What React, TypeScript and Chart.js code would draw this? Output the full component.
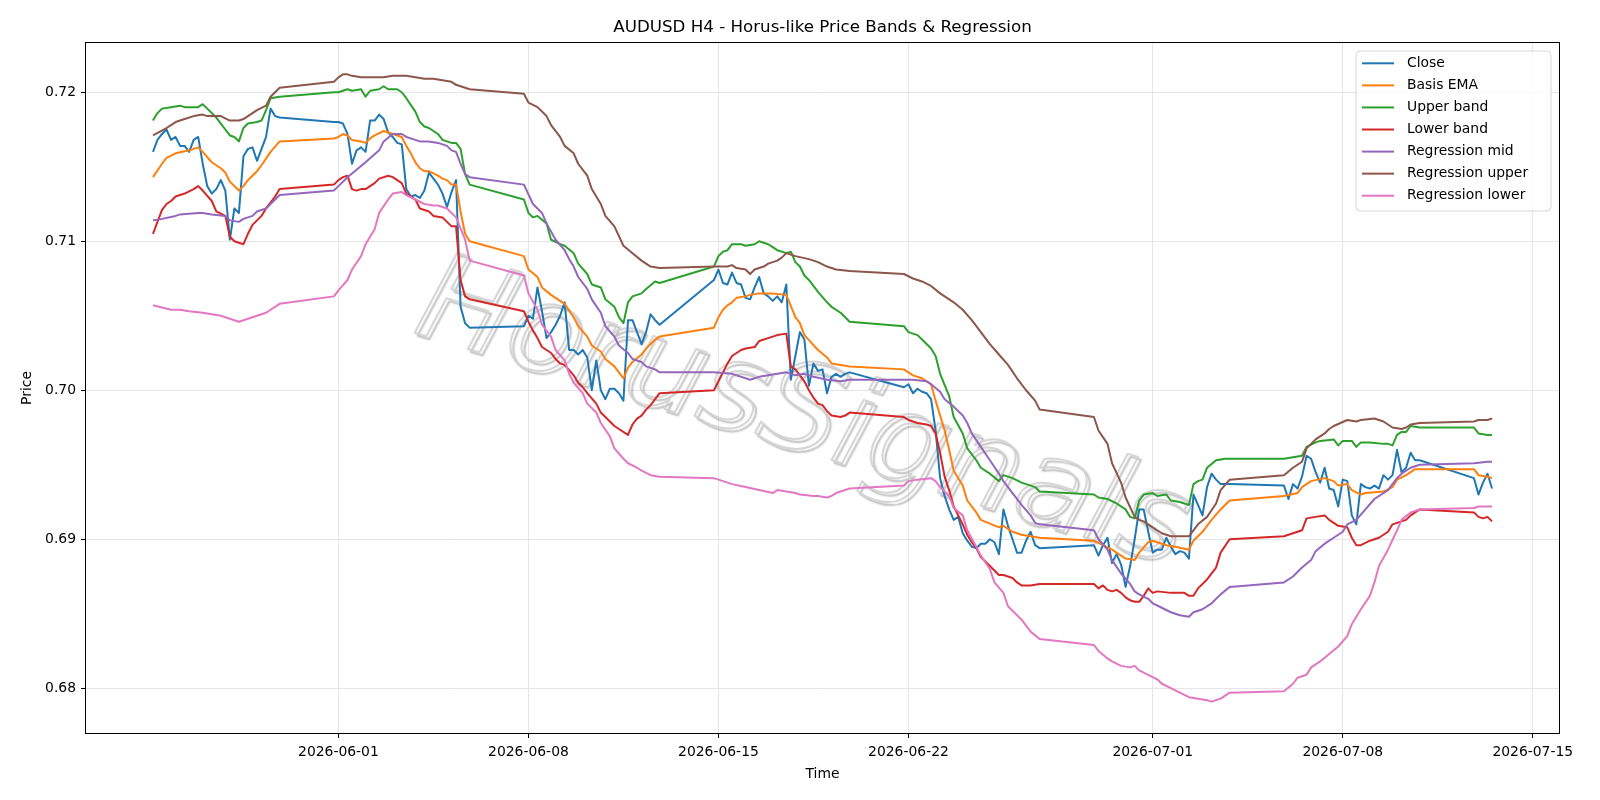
import React, { useEffect, useRef } from "react";
import { Chart, registerables } from "chart.js";

Chart.register(...registerables);

// ---------- text ----------
const TITLE = "AUDUSD H4 - Horus-like Price Bands & Regression";
const X_LABEL = "Time";
const Y_LABEL = "Price";
const WATERMARK = "HorusSignals";
const YEAR = 2026;

// ---------- ticks ----------
const X_TICKS = ["06-01", "06-08", "06-15", "06-22", "07-01", "07-08", "07-15"];
const Y_TICKS = [0.68, 0.69, 0.7, 0.71, 0.72];

// ---------- data: [ "MM-DD HH" (H4 bar time), value ] ----------
type P = [string, number];

const closeSeries: P[] = [
  ["05-25 04", 0.716], ["05-25 08", 0.7168], ["05-25 12", 0.7172], ["05-25 16", 0.7175], ["05-25 20", 0.7168],
  ["05-26 00", 0.717], ["05-26 04", 0.7164], ["05-26 08", 0.7164], ["05-26 12", 0.716], ["05-26 16", 0.7168], ["05-26 20", 0.717],
  ["05-27 00", 0.7152], ["05-27 04", 0.7137], ["05-27 08", 0.7132], ["05-27 12", 0.7135], ["05-27 16", 0.7141], ["05-27 20", 0.7134],
  ["05-28 00", 0.7101], ["05-28 04", 0.7122], ["05-28 08", 0.7119], ["05-28 12", 0.7157], ["05-28 16", 0.7162], ["05-28 20", 0.7163],
  ["05-29 00", 0.7154], ["05-29 04", 0.7162], ["05-29 08", 0.717], ["05-29 12", 0.7189], ["05-29 16", 0.7184], ["05-29 20", 0.7183],
  ["05-31 20", 0.718],
  ["06-01 00", 0.718], ["06-01 04", 0.7179], ["06-01 08", 0.7172], ["06-01 12", 0.7152], ["06-01 16", 0.7161], ["06-01 20", 0.7163],
  ["06-02 00", 0.716], ["06-02 04", 0.7181], ["06-02 08", 0.7181], ["06-02 12", 0.7185], ["06-02 16", 0.7182], ["06-02 20", 0.7173],
  ["06-03 00", 0.717], ["06-03 04", 0.7166], ["06-03 08", 0.7165], ["06-03 12", 0.7135], ["06-03 16", 0.713], ["06-03 20", 0.7131],
  ["06-04 00", 0.7129], ["06-04 04", 0.7134], ["06-04 08", 0.7146], ["06-04 12", 0.7142], ["06-04 16", 0.7138], ["06-04 20", 0.7132],
  ["06-05 00", 0.7123], ["06-05 04", 0.7133], ["06-05 08", 0.7141], ["06-05 12", 0.7056], ["06-05 16", 0.7045], ["06-05 20", 0.7042],
  ["06-07 20", 0.7043],
  ["06-08 00", 0.705], ["06-08 04", 0.7048], ["06-08 08", 0.7069], ["06-08 12", 0.7053], ["06-08 16", 0.7035], ["06-08 20", 0.7039],
  ["06-09 00", 0.7044], ["06-09 04", 0.705], ["06-09 08", 0.7059], ["06-09 12", 0.7027], ["06-09 16", 0.7027], ["06-09 20", 0.7024],
  ["06-10 00", 0.7027], ["06-10 04", 0.7022], ["06-10 08", 0.7], ["06-10 12", 0.702], ["06-10 16", 0.7], ["06-10 20", 0.6994],
  ["06-11 00", 0.7001], ["06-11 04", 0.7001], ["06-11 08", 0.6998], ["06-11 12", 0.6993], ["06-11 16", 0.7047], ["06-11 20", 0.7047],
  ["06-12 00", 0.7039], ["06-12 04", 0.7031], ["06-12 08", 0.7039], ["06-12 12", 0.7051], ["06-12 16", 0.7047], ["06-12 20", 0.7044],
  ["06-14 20", 0.7074],
  ["06-15 00", 0.7081], ["06-15 04", 0.7072], ["06-15 08", 0.7071], ["06-15 12", 0.7079], ["06-15 16", 0.7072], ["06-15 20", 0.7071],
  ["06-16 00", 0.7062], ["06-16 04", 0.7061], ["06-16 08", 0.7069], ["06-16 12", 0.7076], ["06-16 16", 0.7065], ["06-16 20", 0.7063],
  ["06-17 00", 0.706], ["06-17 04", 0.7063], ["06-17 08", 0.7059], ["06-17 12", 0.7071], ["06-17 16", 0.7007], ["06-17 20", 0.7023],
  ["06-18 00", 0.7039], ["06-18 04", 0.7034], ["06-18 08", 0.7003], ["06-18 12", 0.7018], ["06-18 16", 0.7013], ["06-18 20", 0.7014],
  ["06-19 00", 0.6998], ["06-19 04", 0.7009], ["06-19 08", 0.7011], ["06-19 12", 0.7009], ["06-19 16", 0.7011], ["06-19 20", 0.7012],
  ["06-21 20", 0.7002],
  ["06-22 00", 0.7004], ["06-22 04", 0.6998], ["06-22 08", 0.7001], ["06-22 12", 0.6999], ["06-22 16", 0.6998], ["06-22 20", 0.6994],
  ["06-23 00", 0.6973], ["06-23 04", 0.6941], ["06-23 08", 0.6929], ["06-23 12", 0.692], ["06-23 16", 0.6913], ["06-23 20", 0.6915],
  ["06-24 00", 0.6904], ["06-24 04", 0.6899], ["06-24 08", 0.6895], ["06-24 12", 0.6894], ["06-24 16", 0.6897], ["06-24 20", 0.6897],
  ["06-25 00", 0.69], ["06-25 04", 0.6898], ["06-25 08", 0.689], ["06-25 12", 0.692], ["06-25 16", 0.6909], ["06-25 20", 0.69],
  ["06-26 00", 0.6891], ["06-26 04", 0.6891], ["06-26 08", 0.6899], ["06-26 12", 0.6905], ["06-26 16", 0.6896], ["06-26 20", 0.6894],
  ["06-28 20", 0.6896],
  ["06-29 00", 0.6889], ["06-29 04", 0.6896], ["06-29 08", 0.6901], ["06-29 12", 0.6884], ["06-29 16", 0.689], ["06-29 20", 0.6883],
  ["06-30 00", 0.6868], ["06-30 04", 0.6882], ["06-30 08", 0.69], ["06-30 12", 0.692], ["06-30 16", 0.692], ["06-30 20", 0.6905],
  ["07-01 00", 0.6891], ["07-01 04", 0.6893], ["07-01 08", 0.6893], ["07-01 12", 0.6901], ["07-01 16", 0.6895], ["07-01 20", 0.689],
  ["07-02 00", 0.6892], ["07-02 04", 0.6891], ["07-02 08", 0.6887], ["07-02 12", 0.693], ["07-02 16", 0.6923], ["07-02 20", 0.6916],
  ["07-03 00", 0.6935], ["07-03 04", 0.6944], ["07-03 08", 0.694], ["07-03 12", 0.6937], ["07-03 16", 0.6937], ["07-03 20", 0.6937],
  ["07-05 20", 0.6936],
  ["07-06 00", 0.6927], ["07-06 04", 0.6937], ["07-06 08", 0.6934], ["07-06 12", 0.6942], ["07-06 16", 0.6956], ["07-06 20", 0.6954],
  ["07-07 00", 0.6945], ["07-07 04", 0.6938], ["07-07 08", 0.6948], ["07-07 12", 0.6934], ["07-07 16", 0.6933], ["07-07 20", 0.6922],
  ["07-08 00", 0.694], ["07-08 04", 0.6939], ["07-08 08", 0.6916], ["07-08 12", 0.691], ["07-08 16", 0.6937], ["07-08 20", 0.6935],
  ["07-09 00", 0.6934], ["07-09 04", 0.6936], ["07-09 08", 0.6934], ["07-09 12", 0.6943], ["07-09 16", 0.694], ["07-09 20", 0.6943],
  ["07-10 00", 0.696], ["07-10 04", 0.6945], ["07-10 08", 0.6948], ["07-10 12", 0.6958], ["07-10 16", 0.6953], ["07-10 20", 0.6953],
  ["07-12 20", 0.6941],
  ["07-13 00", 0.693], ["07-13 04", 0.6938], ["07-13 08", 0.6944], ["07-13 12", 0.6934],
];

const basisEma: P[] = [
  ["05-25 04", 0.7143], ["05-25 12", 0.7152], ["05-25 16", 0.7156], ["05-26 00", 0.7159], ["05-26 12", 0.7161], ["05-26 20", 0.7163],
  ["05-27 00", 0.716], ["05-27 08", 0.7153], ["05-27 16", 0.7149], ["05-27 20", 0.7146], ["05-28 00", 0.714], ["05-28 08", 0.7134],
  ["05-28 12", 0.7137], ["05-28 16", 0.7141], ["05-28 20", 0.7144], ["05-29 00", 0.7147], ["05-29 04", 0.7151], ["05-29 12", 0.716],
  ["05-29 20", 0.7167], ["05-31 20", 0.7169],
  ["06-01 00", 0.717], ["06-01 04", 0.7172], ["06-01 08", 0.7171], ["06-01 12", 0.7168], ["06-01 20", 0.7167], ["06-02 00", 0.7166],
  ["06-02 04", 0.7169], ["06-02 08", 0.7171], ["06-02 16", 0.7174], ["06-02 20", 0.7173], ["06-03 04", 0.7171], ["06-03 08", 0.717],
  ["06-03 12", 0.7164], ["06-03 16", 0.7159], ["06-03 20", 0.7153], ["06-04 00", 0.7149], ["06-04 04", 0.7147], ["06-04 08", 0.7147],
  ["06-04 16", 0.7144], ["06-04 20", 0.7142], ["06-05 00", 0.7141], ["06-05 04", 0.7138], ["06-05 08", 0.7138], ["06-05 12", 0.712],
  ["06-05 16", 0.7105], ["06-05 20", 0.71], ["06-07 20", 0.709],
  ["06-08 00", 0.7081], ["06-08 08", 0.7076], ["06-08 12", 0.7069], ["06-08 20", 0.7064], ["06-09 00", 0.7062], ["06-09 08", 0.7058],
  ["06-09 16", 0.7049], ["06-09 20", 0.7043], ["06-10 04", 0.7036], ["06-10 08", 0.703], ["06-10 16", 0.7026], ["06-10 20", 0.7021],
  ["06-11 04", 0.7016], ["06-11 12", 0.7008], ["06-11 16", 0.7015], ["06-11 20", 0.7019], ["06-12 04", 0.7024], ["06-12 08", 0.7028],
  ["06-12 16", 0.7034], ["06-12 20", 0.7036], ["06-14 20", 0.7042],
  ["06-15 00", 0.7049], ["06-15 04", 0.7054], ["06-15 08", 0.7057], ["06-15 12", 0.7059], ["06-15 16", 0.7062], ["06-16 00", 0.7063],
  ["06-16 04", 0.7064], ["06-16 12", 0.7065], ["06-17 00", 0.7065], ["06-17 12", 0.7064], ["06-17 20", 0.7049], ["06-18 00", 0.7045],
  ["06-18 04", 0.7037], ["06-18 16", 0.7027], ["06-19 00", 0.7022], ["06-19 04", 0.7018], ["06-19 12", 0.7017], ["06-19 20", 0.7016],
  ["06-21 20", 0.7014],
  ["06-22 04", 0.701], ["06-22 12", 0.7008], ["06-22 20", 0.7004], ["06-23 00", 0.6993], ["06-23 04", 0.6983], ["06-23 08", 0.6973],
  ["06-23 12", 0.696], ["06-23 16", 0.6946], ["06-24 00", 0.6936], ["06-24 04", 0.6926], ["06-24 12", 0.6918], ["06-24 16", 0.6913],
  ["06-25 08", 0.6908], ["06-25 12", 0.6909], ["06-25 20", 0.6905], ["06-26 04", 0.6903], ["06-26 20", 0.6901], ["06-28 20", 0.6899],
  ["06-29 04", 0.6896], ["06-29 12", 0.6893], ["06-29 16", 0.6891], ["06-30 00", 0.6887], ["06-30 08", 0.6886], ["06-30 12", 0.6891],
  ["06-30 20", 0.6898], ["07-01 00", 0.6899], ["07-01 12", 0.6896], ["07-01 20", 0.6895], ["07-02 08", 0.6893], ["07-02 12", 0.6899],
  ["07-02 20", 0.6905], ["07-03 04", 0.6913], ["07-03 12", 0.692], ["07-03 20", 0.6926], ["07-05 20", 0.6929],
  ["07-06 08", 0.6931], ["07-06 12", 0.6935], ["07-06 20", 0.6939], ["07-07 08", 0.6941], ["07-07 16", 0.6939], ["07-07 20", 0.6936],
  ["07-08 04", 0.6937], ["07-08 08", 0.6933], ["07-08 16", 0.693], ["07-08 20", 0.6931], ["07-09 12", 0.6932], ["07-09 20", 0.6935],
  ["07-10 00", 0.694], ["07-10 08", 0.6943], ["07-10 16", 0.6947], ["07-10 20", 0.6947], ["07-12 20", 0.6947],
  ["07-13 00", 0.6943], ["07-13 08", 0.6942], ["07-13 12", 0.6941],
];

const upperBand: P[] = [
  ["05-25 04", 0.7181], ["05-25 08", 0.7186], ["05-25 12", 0.7189], ["05-25 20", 0.719], ["05-26 04", 0.7191], ["05-26 08", 0.719],
  ["05-26 20", 0.719], ["05-27 00", 0.7192], ["05-27 04", 0.7189], ["05-27 12", 0.7183], ["05-27 16", 0.7179], ["05-27 20", 0.7175],
  ["05-28 00", 0.7171], ["05-28 04", 0.717], ["05-28 08", 0.7167], ["05-28 12", 0.7176], ["05-28 16", 0.7179], ["05-29 00", 0.718],
  ["05-29 04", 0.7181], ["05-29 08", 0.7188], ["05-29 12", 0.7196], ["05-29 20", 0.7197], ["05-31 20", 0.72],
  ["06-01 00", 0.72], ["06-01 04", 0.7201], ["06-01 08", 0.7202], ["06-01 12", 0.7201], ["06-01 20", 0.7202], ["06-02 00", 0.7197],
  ["06-02 04", 0.7201], ["06-02 12", 0.7202], ["06-02 16", 0.7204], ["06-02 20", 0.7202], ["06-03 04", 0.7202], ["06-03 08", 0.72],
  ["06-03 12", 0.7196], ["06-03 20", 0.7187], ["06-04 00", 0.718], ["06-04 04", 0.7177], ["06-04 08", 0.7176], ["06-04 16", 0.7172],
  ["06-04 20", 0.7168], ["06-05 04", 0.7166], ["06-05 08", 0.7166], ["06-05 12", 0.7162], ["06-05 16", 0.7145], ["06-05 20", 0.7138],
  ["06-07 20", 0.7128],
  ["06-08 00", 0.7119], ["06-08 04", 0.7116], ["06-08 08", 0.7117], ["06-08 16", 0.7112], ["06-08 20", 0.7101], ["06-09 04", 0.7098],
  ["06-09 08", 0.7097], ["06-09 16", 0.7092], ["06-09 20", 0.7085], ["06-10 04", 0.7078], ["06-10 08", 0.7071], ["06-10 16", 0.7069],
  ["06-10 20", 0.7061], ["06-11 04", 0.7056], ["06-11 08", 0.7049], ["06-11 12", 0.7045], ["06-11 16", 0.7059], ["06-11 20", 0.7063],
  ["06-12 04", 0.7065], ["06-12 08", 0.7068], ["06-12 16", 0.7073], ["06-12 20", 0.7072], ["06-14 20", 0.7083],
  ["06-15 00", 0.709], ["06-15 04", 0.7093], ["06-15 08", 0.7094], ["06-15 12", 0.7098], ["06-15 20", 0.7098], ["06-16 00", 0.7097],
  ["06-16 08", 0.7098], ["06-16 12", 0.71], ["06-16 20", 0.7098], ["06-17 00", 0.7096], ["06-17 04", 0.7094], ["06-17 12", 0.7092],
  ["06-17 16", 0.7093], ["06-17 20", 0.7086], ["06-18 00", 0.7083], ["06-18 04", 0.7077], ["06-18 08", 0.7074], ["06-18 16", 0.7066],
  ["06-19 00", 0.7059], ["06-19 04", 0.7056], ["06-19 12", 0.7052], ["06-19 20", 0.7046], ["06-21 20", 0.7043],
  ["06-22 00", 0.7039], ["06-22 08", 0.7037], ["06-22 12", 0.7034], ["06-22 20", 0.7028], ["06-23 00", 0.7023], ["06-23 04", 0.7011],
  ["06-23 12", 0.6996], ["06-23 16", 0.6982], ["06-24 00", 0.6971], ["06-24 04", 0.6961], ["06-24 12", 0.6953], ["06-24 16", 0.6948],
  ["06-25 00", 0.6944], ["06-25 08", 0.6939], ["06-25 12", 0.6943], ["06-25 16", 0.6942], ["06-25 20", 0.6941], ["06-26 04", 0.6938],
  ["06-26 08", 0.6937], ["06-26 16", 0.6935], ["06-26 20", 0.6932], ["06-28 20", 0.693],
  ["06-29 00", 0.6928], ["06-29 08", 0.6927], ["06-29 16", 0.6924], ["06-30 00", 0.692], ["06-30 04", 0.6915], ["06-30 08", 0.6914],
  ["06-30 12", 0.6926], ["06-30 16", 0.693], ["07-01 00", 0.6931], ["07-01 04", 0.6929], ["07-01 12", 0.693], ["07-01 16", 0.6926],
  ["07-02 00", 0.6925], ["07-02 04", 0.6924], ["07-02 08", 0.6923], ["07-02 12", 0.6937], ["07-02 16", 0.6939], ["07-02 20", 0.694],
  ["07-03 00", 0.6948], ["07-03 08", 0.6953], ["07-03 16", 0.6954], ["07-05 20", 0.6954],
  ["07-06 04", 0.6955], ["07-06 12", 0.6956], ["07-06 16", 0.6962], ["07-07 00", 0.6965], ["07-07 04", 0.6966], ["07-07 16", 0.6967],
  ["07-07 20", 0.6963], ["07-08 00", 0.6966], ["07-08 08", 0.6966], ["07-08 12", 0.6962], ["07-08 16", 0.6965], ["07-09 00", 0.6965],
  ["07-09 12", 0.6964], ["07-09 16", 0.6964], ["07-09 20", 0.6963], ["07-10 00", 0.697], ["07-10 04", 0.6972], ["07-10 08", 0.6972],
  ["07-10 12", 0.6976], ["07-10 20", 0.6975], ["07-12 20", 0.6975],
  ["07-13 00", 0.6971], ["07-13 08", 0.697], ["07-13 12", 0.697],
];

const lowerBand: P[] = [
  ["05-25 04", 0.7105], ["05-25 08", 0.7113], ["05-25 12", 0.7121], ["05-25 16", 0.7125], ["05-25 20", 0.7127], ["05-26 00", 0.713],
  ["05-26 04", 0.7131], ["05-26 08", 0.7132], ["05-26 16", 0.7135], ["05-26 20", 0.7137], ["05-27 00", 0.7134], ["05-27 08", 0.7127],
  ["05-27 12", 0.712], ["05-27 20", 0.7117], ["05-28 00", 0.7103], ["05-28 04", 0.71], ["05-28 12", 0.7098], ["05-28 16", 0.7105],
  ["05-28 20", 0.7111], ["05-29 00", 0.7114], ["05-29 04", 0.7117], ["05-29 08", 0.7122], ["05-29 16", 0.713], ["05-29 20", 0.7135],
  ["05-31 20", 0.7138],
  ["06-01 00", 0.7141], ["06-01 04", 0.7143], ["06-01 08", 0.7144], ["06-01 12", 0.7135], ["06-01 16", 0.7134], ["06-01 20", 0.7135],
  ["06-02 00", 0.7135], ["06-02 08", 0.7139], ["06-02 12", 0.7142], ["06-02 20", 0.7144], ["06-03 00", 0.7143], ["06-03 04", 0.7141],
  ["06-03 08", 0.7139], ["06-03 12", 0.7132], ["06-03 20", 0.7128], ["06-04 00", 0.7122], ["06-04 08", 0.712], ["06-04 12", 0.7117],
  ["06-04 20", 0.7116], ["06-05 00", 0.7113], ["06-05 04", 0.711], ["06-05 08", 0.711], ["06-05 12", 0.7074], ["06-05 16", 0.7063],
  ["06-05 20", 0.7061], ["06-07 20", 0.7053],
  ["06-08 00", 0.7046], ["06-08 04", 0.704], ["06-08 08", 0.7035], ["06-08 12", 0.7029], ["06-08 20", 0.7025], ["06-09 00", 0.7021],
  ["06-09 04", 0.7018], ["06-09 08", 0.7017], ["06-09 16", 0.701], ["06-09 20", 0.7005], ["06-10 00", 0.7002], ["06-10 04", 0.6998],
  ["06-10 12", 0.6991], ["06-10 16", 0.6985], ["06-11 00", 0.6979], ["06-11 04", 0.6976], ["06-11 08", 0.6974], ["06-11 16", 0.697],
  ["06-11 20", 0.6977], ["06-12 00", 0.6981], ["06-12 04", 0.6983], ["06-12 08", 0.6987], ["06-12 12", 0.699], ["06-12 20", 0.6998],
  ["06-14 20", 0.7],
  ["06-15 00", 0.7006], ["06-15 04", 0.7012], ["06-15 08", 0.7018], ["06-15 12", 0.7023], ["06-15 20", 0.7027], ["06-16 00", 0.7028],
  ["06-16 08", 0.7029], ["06-16 12", 0.7033], ["06-16 20", 0.7035], ["06-17 00", 0.7036], ["06-17 04", 0.7037], ["06-17 12", 0.7038],
  ["06-17 16", 0.7016], ["06-17 20", 0.7014], ["06-18 00", 0.701], ["06-18 04", 0.7006], ["06-18 08", 0.7], ["06-18 12", 0.6995],
  ["06-18 16", 0.6991], ["06-18 20", 0.699], ["06-19 00", 0.6986], ["06-19 04", 0.6983], ["06-19 12", 0.6982], ["06-19 16", 0.6983],
  ["06-19 20", 0.6985], ["06-21 20", 0.6982],
  ["06-22 00", 0.698], ["06-22 08", 0.6978], ["06-22 16", 0.6977], ["06-22 20", 0.6976], ["06-23 00", 0.6971], ["06-23 04", 0.6958],
  ["06-23 08", 0.6942], ["06-23 12", 0.6933], ["06-23 16", 0.6922], ["06-23 20", 0.6916], ["06-24 00", 0.691], ["06-24 04", 0.6903],
  ["06-24 08", 0.6898], ["06-24 12", 0.6894], ["06-24 16", 0.6888], ["06-24 20", 0.6885], ["06-25 00", 0.6882], ["06-25 04", 0.6879],
  ["06-25 08", 0.6876], ["06-25 12", 0.6876], ["06-25 16", 0.6875], ["06-25 20", 0.6874], ["06-26 00", 0.6871], ["06-26 04", 0.6869],
  ["06-26 12", 0.6869], ["06-26 20", 0.687], ["06-28 20", 0.687],
  ["06-29 00", 0.6867], ["06-29 04", 0.6869], ["06-29 08", 0.6866], ["06-29 12", 0.6865], ["06-29 16", 0.6866], ["06-29 20", 0.6864],
  ["06-30 00", 0.6861], ["06-30 04", 0.6859], ["06-30 08", 0.6858], ["06-30 12", 0.6858], ["06-30 16", 0.6862], ["06-30 20", 0.6867],
  ["07-01 00", 0.6864], ["07-01 04", 0.6865], ["07-01 16", 0.6864], ["07-02 04", 0.6864], ["07-02 08", 0.6862], ["07-02 12", 0.6862],
  ["07-02 16", 0.6867], ["07-03 00", 0.6873], ["07-03 08", 0.6881], ["07-03 12", 0.6891], ["07-03 20", 0.69], ["07-05 20", 0.6902],
  ["07-06 00", 0.6903], ["07-06 08", 0.6905], ["07-06 12", 0.6906], ["07-06 16", 0.6914], ["07-07 00", 0.6915], ["07-07 08", 0.6916],
  ["07-07 12", 0.6913], ["07-07 16", 0.6911], ["07-07 20", 0.6909], ["07-08 04", 0.6908], ["07-08 08", 0.6901], ["07-08 12", 0.6896],
  ["07-08 16", 0.6896], ["07-09 00", 0.6899], ["07-09 08", 0.6901], ["07-09 16", 0.6905], ["07-09 20", 0.691], ["07-10 00", 0.6911],
  ["07-10 08", 0.6913], ["07-10 12", 0.6916], ["07-10 20", 0.692], ["07-12 20", 0.6918],
  ["07-13 00", 0.6915], ["07-13 04", 0.6914], ["07-13 08", 0.6915], ["07-13 12", 0.6912],
];

const regressionMid: P[] = [
  ["05-25 04", 0.7114], ["05-25 12", 0.7115], ["05-26 00", 0.7117], ["05-26 04", 0.7118], ["05-26 20", 0.7119], ["05-27 00", 0.7119],
  ["05-27 08", 0.7118], ["05-27 20", 0.7117], ["05-28 00", 0.7114], ["05-28 08", 0.7113], ["05-28 12", 0.7115], ["05-28 20", 0.7117],
  ["05-29 00", 0.712], ["05-29 08", 0.7122], ["05-29 12", 0.7125], ["05-29 20", 0.7131], ["05-31 20", 0.7134],
  ["06-01 00", 0.7137], ["06-01 08", 0.7143], ["06-01 16", 0.7148], ["06-02 00", 0.7153], ["06-02 12", 0.7161], ["06-02 16", 0.7167],
  ["06-03 00", 0.7172], ["06-03 08", 0.7172], ["06-03 12", 0.717], ["06-03 20", 0.7168], ["06-04 00", 0.7167], ["06-04 08", 0.7167],
  ["06-04 16", 0.7166], ["06-05 00", 0.7164], ["06-05 04", 0.7161], ["06-05 08", 0.716], ["06-05 12", 0.7152], ["06-05 16", 0.7145],
  ["06-05 20", 0.7143], ["06-07 20", 0.7138],
  ["06-08 04", 0.7125], ["06-08 12", 0.7119], ["06-08 16", 0.7112], ["06-09 00", 0.7101], ["06-09 08", 0.7094], ["06-09 12", 0.7088],
  ["06-09 16", 0.7083], ["06-09 20", 0.7076], ["06-10 04", 0.7068], ["06-10 08", 0.7061], ["06-10 16", 0.7052], ["06-10 20", 0.7043],
  ["06-11 04", 0.7036], ["06-11 08", 0.703], ["06-11 16", 0.7025], ["06-11 20", 0.7021], ["06-12 04", 0.7019], ["06-12 08", 0.7016],
  ["06-12 16", 0.7014], ["06-12 20", 0.7012], ["06-14 20", 0.7012],
  ["06-15 12", 0.7011], ["06-16 04", 0.7007], ["06-16 12", 0.7009], ["06-17 04", 0.7011], ["06-17 12", 0.7012], ["06-17 20", 0.701],
  ["06-18 04", 0.7011], ["06-18 12", 0.7009], ["06-19 00", 0.7007], ["06-19 12", 0.7006], ["06-19 20", 0.7007], ["06-21 20", 0.7007],
  ["06-22 04", 0.7007], ["06-22 16", 0.7006], ["06-22 20", 0.7004], ["06-23 04", 0.6999], ["06-23 08", 0.6994], ["06-23 16", 0.6989],
  ["06-24 00", 0.6983], ["06-24 04", 0.6978], ["06-24 08", 0.6971], ["06-24 16", 0.6962], ["06-25 00", 0.6953], ["06-25 08", 0.6944],
  ["06-25 12", 0.6939], ["06-25 20", 0.6931], ["06-26 04", 0.6923], ["06-26 12", 0.6916], ["06-26 16", 0.6911], ["06-26 20", 0.691],
  ["06-28 20", 0.6906],
  ["06-29 00", 0.69], ["06-29 08", 0.6893], ["06-29 12", 0.6886], ["06-29 20", 0.6877], ["06-30 04", 0.687], ["06-30 08", 0.6865],
  ["06-30 12", 0.6863], ["06-30 20", 0.686], ["07-01 00", 0.6857], ["07-01 08", 0.6854], ["07-01 16", 0.6851], ["07-02 00", 0.6849],
  ["07-02 08", 0.6848], ["07-02 12", 0.6851], ["07-02 20", 0.6853], ["07-03 04", 0.6857], ["07-03 12", 0.6863], ["07-03 20", 0.6868],
  ["07-05 20", 0.6871],
  ["07-06 04", 0.6875], ["07-06 12", 0.6881], ["07-06 20", 0.6886], ["07-07 00", 0.6892], ["07-07 08", 0.6897], ["07-07 16", 0.6901],
  ["07-08 00", 0.6905], ["07-08 04", 0.691], ["07-08 12", 0.6913], ["07-08 20", 0.692], ["07-09 04", 0.6927], ["07-09 16", 0.6933],
  ["07-10 00", 0.6941], ["07-10 04", 0.6944], ["07-10 12", 0.6948], ["07-10 20", 0.695], ["07-12 20", 0.6951],
  ["07-13 08", 0.6952], ["07-13 12", 0.6952],
];

const regressionUpper: P[] = [
  ["05-25 04", 0.7171], ["05-25 16", 0.7176], ["05-26 00", 0.718], ["05-26 08", 0.7182], ["05-26 16", 0.7184], ["05-27 00", 0.7185],
  ["05-27 04", 0.7184], ["05-27 16", 0.7184], ["05-28 00", 0.7181], ["05-28 08", 0.7181], ["05-28 12", 0.7182], ["05-28 20", 0.7186],
  ["05-29 00", 0.7188], ["05-29 08", 0.7191], ["05-29 12", 0.7197], ["05-29 20", 0.7203], ["05-31 20", 0.7207],
  ["06-01 00", 0.721], ["06-01 04", 0.7212], ["06-01 08", 0.7212], ["06-01 12", 0.7211], ["06-01 20", 0.721], ["06-02 08", 0.721],
  ["06-02 16", 0.721], ["06-03 00", 0.7211], ["06-03 12", 0.7211], ["06-03 20", 0.721], ["06-04 04", 0.7209], ["06-04 12", 0.7209],
  ["06-04 20", 0.7208], ["06-05 04", 0.7207], ["06-05 08", 0.7205], ["06-05 16", 0.7203], ["06-05 20", 0.7202], ["06-07 20", 0.7199],
  ["06-08 00", 0.7193], ["06-08 08", 0.719], ["06-08 16", 0.7184], ["06-08 20", 0.7178], ["06-09 04", 0.717], ["06-09 08", 0.7164],
  ["06-09 16", 0.7159], ["06-09 20", 0.7152], ["06-10 04", 0.7144], ["06-10 08", 0.7135], ["06-10 16", 0.7125], ["06-10 20", 0.7117],
  ["06-11 04", 0.711], ["06-11 12", 0.7097], ["06-11 20", 0.7092], ["06-12 04", 0.7087], ["06-12 12", 0.7083], ["06-12 20", 0.7082],
  ["06-14 20", 0.7083],
  ["06-15 08", 0.7083], ["06-15 12", 0.7084], ["06-15 16", 0.7082], ["06-16 00", 0.7081], ["06-16 04", 0.7078], ["06-16 08", 0.7081],
  ["06-16 16", 0.7083], ["06-16 20", 0.7085], ["06-17 04", 0.7087], ["06-17 08", 0.7089], ["06-17 12", 0.7092], ["06-17 20", 0.709],
  ["06-18 08", 0.7088], ["06-18 16", 0.7086], ["06-19 00", 0.7083], ["06-19 08", 0.7081], ["06-19 20", 0.708], ["06-21 20", 0.7078],
  ["06-22 04", 0.7075], ["06-22 12", 0.7073], ["06-22 20", 0.707], ["06-23 04", 0.7065], ["06-23 16", 0.7059], ["06-24 00", 0.7054],
  ["06-24 08", 0.7047], ["06-24 16", 0.7039], ["06-25 00", 0.7031], ["06-25 08", 0.7024], ["06-25 16", 0.7017], ["06-26 00", 0.7008],
  ["06-26 08", 0.7], ["06-26 16", 0.6993], ["06-26 20", 0.6987], ["06-28 20", 0.6982],
  ["06-29 00", 0.6973], ["06-29 08", 0.6964], ["06-29 12", 0.6951], ["06-29 20", 0.6938], ["06-30 00", 0.6928], ["06-30 08", 0.6915],
  ["06-30 12", 0.6913], ["06-30 16", 0.6912], ["07-01 00", 0.6908], ["07-01 08", 0.6904], ["07-01 16", 0.6902], ["07-02 00", 0.6902],
  ["07-02 08", 0.6902], ["07-02 12", 0.6906], ["07-02 16", 0.691], ["07-03 00", 0.6915], ["07-03 08", 0.6924], ["07-03 12", 0.6933],
  ["07-03 20", 0.694], ["07-05 20", 0.6943],
  ["07-06 04", 0.6948], ["07-06 12", 0.6952], ["07-06 16", 0.6961], ["07-07 00", 0.6967], ["07-07 08", 0.6971], ["07-07 12", 0.6974],
  ["07-07 16", 0.6976], ["07-08 04", 0.698], ["07-08 12", 0.6979], ["07-08 16", 0.698], ["07-09 04", 0.6981], ["07-09 12", 0.6979],
  ["07-09 16", 0.6977], ["07-09 20", 0.6975], ["07-10 04", 0.6974], ["07-10 08", 0.6975], ["07-10 12", 0.6977], ["07-10 20", 0.6978],
  ["07-12 20", 0.6979], ["07-13 00", 0.698], ["07-13 08", 0.698], ["07-13 12", 0.6981],
];

const regressionLower: P[] = [
  ["05-25 04", 0.7057], ["05-25 20", 0.7054], ["05-26 04", 0.7054], ["05-26 12", 0.7053], ["05-27 00", 0.7052], ["05-27 08", 0.7051],
  ["05-27 16", 0.705], ["05-27 20", 0.7049], ["05-28 04", 0.7047], ["05-28 08", 0.7046], ["05-28 12", 0.7047], ["05-28 20", 0.7049],
  ["05-29 00", 0.705], ["05-29 08", 0.7052], ["05-29 12", 0.7054], ["05-29 20", 0.7058], ["05-31 20", 0.7063],
  ["06-01 00", 0.7067], ["06-01 08", 0.7074], ["06-01 12", 0.7081], ["06-01 20", 0.709], ["06-02 00", 0.7098], ["06-02 08", 0.7108],
  ["06-02 12", 0.7119], ["06-02 20", 0.7128], ["06-03 00", 0.7132], ["06-03 08", 0.7133], ["06-03 12", 0.7131], ["06-03 20", 0.7128],
  ["06-04 04", 0.7125], ["06-04 12", 0.7124], ["06-04 16", 0.7124], ["06-05 00", 0.7122], ["06-05 04", 0.7119], ["06-05 08", 0.7116],
  ["06-05 16", 0.7101], ["06-05 20", 0.7087], ["06-07 20", 0.7077],
  ["06-08 00", 0.7065], ["06-08 08", 0.7054], ["06-08 12", 0.7044], ["06-08 20", 0.7036], ["06-09 00", 0.7027], ["06-09 08", 0.702],
  ["06-09 12", 0.7011], ["06-09 16", 0.7005], ["06-10 00", 0.6998], ["06-10 04", 0.6991], ["06-10 12", 0.6985], ["06-10 16", 0.6978],
  ["06-11 00", 0.6969], ["06-11 04", 0.6961], ["06-11 12", 0.6954], ["06-11 16", 0.6951], ["06-12 00", 0.6948], ["06-12 04", 0.6946],
  ["06-12 12", 0.6943], ["06-12 20", 0.6942], ["06-14 20", 0.6941],
  ["06-15 00", 0.694], ["06-15 12", 0.6937], ["06-16 00", 0.6935], ["06-16 12", 0.6933], ["06-17 00", 0.6931], ["06-17 04", 0.6933],
  ["06-17 12", 0.6932], ["06-17 20", 0.6931], ["06-18 00", 0.693], ["06-18 12", 0.6929], ["06-18 16", 0.6929], ["06-19 00", 0.6928],
  ["06-19 04", 0.6929], ["06-19 08", 0.6931], ["06-19 20", 0.6934], ["06-21 20", 0.6936],
  ["06-22 00", 0.6939], ["06-22 08", 0.694], ["06-22 20", 0.6941], ["06-23 00", 0.6939], ["06-23 04", 0.6935], ["06-23 12", 0.6929],
  ["06-23 16", 0.6921], ["06-24 00", 0.6916], ["06-24 04", 0.6906], ["06-24 12", 0.6895], ["06-24 16", 0.6889], ["06-25 00", 0.688],
  ["06-25 04", 0.6871], ["06-25 12", 0.6864], ["06-25 16", 0.6855], ["06-26 04", 0.6846], ["06-26 12", 0.6838], ["06-26 20", 0.6833],
  ["06-28 20", 0.6829],
  ["06-29 00", 0.6825], ["06-29 08", 0.682], ["06-29 12", 0.6818], ["06-29 20", 0.6815], ["06-30 04", 0.6814], ["06-30 08", 0.6815],
  ["06-30 12", 0.6812], ["06-30 20", 0.6809], ["07-01 04", 0.6806], ["07-01 08", 0.6803], ["07-01 16", 0.68], ["07-02 00", 0.6797],
  ["07-02 08", 0.6794], ["07-02 16", 0.6793], ["07-03 00", 0.6792], ["07-03 04", 0.6791], ["07-03 12", 0.6793], ["07-03 20", 0.6797],
  ["07-05 20", 0.6798],
  ["07-06 04", 0.6803], ["07-06 08", 0.6807], ["07-06 16", 0.6809], ["07-06 20", 0.6814], ["07-07 04", 0.6818], ["07-07 12", 0.6823],
  ["07-07 20", 0.6828], ["07-08 04", 0.6835], ["07-08 08", 0.6843], ["07-08 16", 0.6853], ["07-09 00", 0.6862], ["07-09 04", 0.6871],
  ["07-09 08", 0.6882], ["07-09 16", 0.6893], ["07-10 00", 0.6906], ["07-10 04", 0.6913], ["07-10 12", 0.6918], ["07-10 20", 0.692],
  ["07-12 20", 0.6921], ["07-13 00", 0.6922], ["07-13 12", 0.6922],
];

const SERIES_LABELS = ["Close", "Basis EMA", "Upper band", "Lower band", "Regression mid", "Regression upper", "Regression lower"];
const SERIES_COLORS = ["#1f77b4", "#ff7f0e", "#2ca02c", "#d62728", "#9467bd", "#8c564b", "#e377c2"];
const SERIES_DATA = [closeSeries, basisEma, upperBand, lowerBand, regressionMid, regressionUpper, regressionLower];

// ---------- helpers ----------
const FONT = "'DejaVu Sans', 'Liberation Sans', sans-serif";
const toMs = (s: string) => {
  const [md, h] = s.split(" ");
  const [m, d] = md.split("-").map(Number);
  return Date.UTC(YEAR, m - 1, d, Number(h || 0));
};
const fmtDate = (ms: number) => new Date(ms).toISOString().slice(0, 10);

const allT = SERIES_DATA.flat().map((p) => toMs(p[0]));
const allV = SERIES_DATA.flat().map((p) => p[1]);
const tMin = Math.min(...allT), tMax = Math.max(...allT);
const vMin = Math.min(...allV), vMax = Math.max(...allV);
const X_MIN = tMin - 0.05 * (tMax - tMin);
const X_MAX = tMax + 0.05 * (tMax - tMin);
const Y_MIN = vMin - 0.05 * (vMax - vMin);
const Y_MAX = vMax + 0.05 * (vMax - vMin);

const decorPlugin = {
  id: "decor",
  beforeDraw(chart: any) {
    const ctx = chart.ctx;
    ctx.save();
    ctx.fillStyle = "#ffffff";
    ctx.fillRect(0, 0, chart.width, chart.height);
    ctx.restore();
  },
  beforeDatasetsDraw(chart: any) {
    const ctx = chart.ctx;
    const a = chart.chartArea;
    ctx.save();
    ctx.beginPath();
    ctx.rect(a.left, a.top, a.right - a.left, a.bottom - a.top);
    ctx.clip();
    ctx.translate(792, 448);
    ctx.rotate((17 * Math.PI) / 180);
    ctx.font = `italic 122px ${FONT}`;
    ctx.textAlign = "center";
    ctx.textBaseline = "alphabetic";
    ctx.lineJoin = "round";
    ctx.shadowColor = "rgba(110,110,110,0.5)";
    ctx.shadowOffsetX = 3;
    ctx.shadowOffsetY = 3;
    ctx.shadowBlur = 1.5;
    ctx.strokeStyle = "rgba(210,210,210,0.9)";
    ctx.lineWidth = 2;
    ctx.strokeText(WATERMARK, 0, 0);
    ctx.restore();
  },
  afterDraw(chart: any) {
    const ctx = chart.ctx;
    const a = chart.chartArea;
    ctx.save();
    // frame (all four spines)
    ctx.strokeStyle = "#000000";
    ctx.lineWidth = 1;
    ctx.strokeRect(a.left - 0.5, a.top - 0.5, a.right - a.left + 1, a.bottom - a.top + 1);

    // title
    ctx.fillStyle = "#000000";
    ctx.font = `16.7px ${FONT}`;
    ctx.textAlign = "center";
    ctx.textBaseline = "alphabetic";
    ctx.fillText(TITLE, (a.left + a.right) / 2, 32);

    // axis labels
    ctx.font = `13.9px ${FONT}`;
    ctx.fillText(X_LABEL, (a.left + a.right) / 2, 778);
    ctx.save();
    ctx.translate(30.5, (a.top + a.bottom) / 2);
    ctx.rotate(-Math.PI / 2);
    ctx.fillText(Y_LABEL, 0, 0);
    ctx.restore();

    // legend
    const lx = 1356, ly = 51, lw = 195, lh = 160, r = 4;
    ctx.beginPath();
    ctx.moveTo(lx + r, ly);
    ctx.arcTo(lx + lw, ly, lx + lw, ly + lh, r);
    ctx.arcTo(lx + lw, ly + lh, lx, ly + lh, r);
    ctx.arcTo(lx, ly + lh, lx, ly, r);
    ctx.arcTo(lx, ly, lx + lw, ly, r);
    ctx.closePath();
    ctx.fillStyle = "rgba(255,255,255,0.8)";
    ctx.fill();
    ctx.strokeStyle = "rgba(204,204,204,0.8)";
    ctx.lineWidth = 1;
    ctx.stroke();
    ctx.textAlign = "left";
    ctx.textBaseline = "middle";
    SERIES_LABELS.forEach((lab, i) => {
      const y = 63.3 + i * 22.07;
      ctx.strokeStyle = SERIES_COLORS[i];
      ctx.lineWidth = 2;
      ctx.beginPath();
      ctx.moveTo(1362, y);
      ctx.lineTo(1394, y);
      ctx.stroke();
      ctx.fillStyle = "#000000";
      ctx.fillText(lab, 1407, y);
    });
    ctx.restore();
  },
};

export default function App() {
  const ref = useRef<HTMLCanvasElement | null>(null);
  useEffect(() => {
    if (!ref.current) return;
    const chart = new Chart(ref.current, {
      type: "line",
      data: {
        datasets: SERIES_DATA.map((d, i) => ({
          label: SERIES_LABELS[i],
          data: d.map(([t, v]) => ({ x: toMs(t), y: v })),
          borderColor: SERIES_COLORS[i],
          backgroundColor: SERIES_COLORS[i],
          borderWidth: 2,
          pointRadius: 0,
          pointHoverRadius: 0,
          tension: 0,
          fill: false,
          borderJoinStyle: "round",
          borderCapStyle: "butt",
          order: SERIES_DATA.length - i,
        })),
      },
      options: {
        responsive: false,
        animation: false,
        devicePixelRatio: 1,
        events: [],
        layout: { padding: { top: 43, right: 41, left: 0, bottom: 0 } },
        plugins: {
          legend: { display: false },
          title: { display: false },
          tooltip: { enabled: false },
        },
        scales: {
          x: {
            type: "linear",
            min: X_MIN,
            max: X_MAX,
            border: { display: false },
            grid: {
              color: "#e6e6e6",
              lineWidth: 1,
              tickColor: "#000000",
              tickLength: 5,
              tickWidth: 1,
            },
            ticks: {
              autoSkip: false,
              maxRotation: 0,
              minRotation: 0,
              padding: 6,
              color: "#000000",
              font: { family: FONT, size: 13.9 },
              callback: (v: any) => fmtDate(Number(v)),
            },
            afterBuildTicks: (s: any) => {
              s.ticks = X_TICKS.map((t) => ({ value: toMs(t + " 00") }));
            },
            afterFit: (s: any) => {
              s.height = 67;
            },
          },
          y: {
            type: "linear",
            min: Y_MIN,
            max: Y_MAX,
            border: { display: false },
            grid: {
              color: "#e6e6e6",
              lineWidth: 1,
              tickColor: "#000000",
              tickLength: 5,
              tickWidth: 1,
            },
            ticks: {
              padding: 5,
              color: "#000000",
              font: { family: FONT, size: 13.9 },
              callback: (v: any) => Number(v).toFixed(2),
            },
            afterBuildTicks: (s: any) => {
              s.ticks = Y_TICKS.map((v) => ({ value: v }));
            },
            afterFit: (s: any) => {
              s.width = 86;
            },
          },
        },
      },
      plugins: [decorPlugin],
    } as any);
    return () => chart.destroy();
  }, []);

  return (
    <div style={{ position: "absolute", left: 0, top: 0, width: 1600, height: 800, background: "#fff" }}>
      <canvas ref={ref} width={1600} height={800} style={{ display: "block", width: 1600, height: 800 }} />
    </div>
  );
}
